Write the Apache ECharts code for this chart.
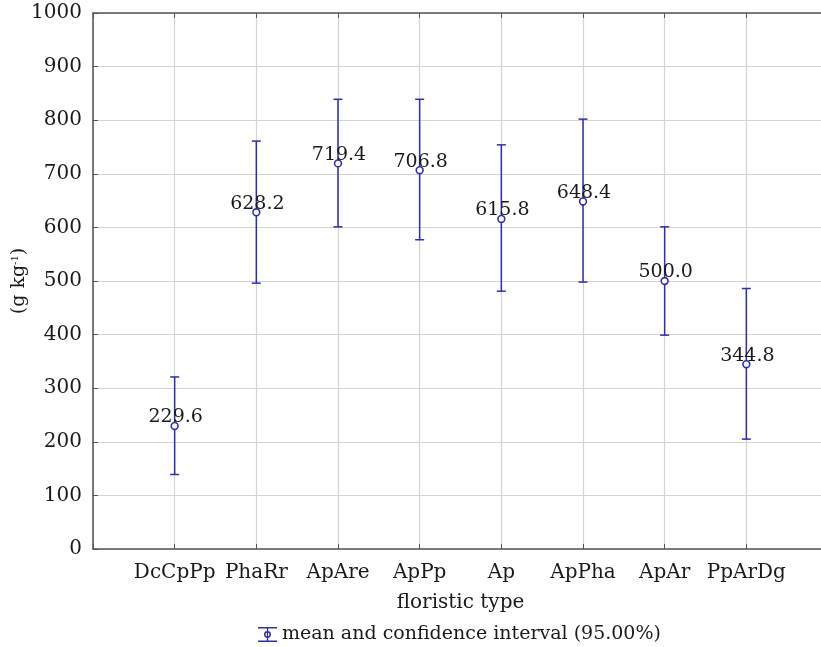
<!DOCTYPE html>
<html>
<head>
<meta charset="utf-8">
<script src="https://cdn.jsdelivr.net/npm/echarts@6/dist/echarts.min.js"></script>
<style>
  html, body { margin: 0; padding: 0; background: #fff; }
  #chart { width: 821px; height: 647px; }
</style>
</head>
<body>
<div id="chart"></div>
<script>
// floristic types, padded with empty slots at both ends of the axis
var categories = ['DcCpPp', 'PhaRr', 'ApAre', 'ApPp', 'Ap', 'ApPha', 'ApAr', 'PpArDg'];
var means = [229.6, 628.2, 719.4, 706.8, 615.8, 648.4, 500.0, 344.8];
var upper = [321, 761, 839, 839, 754, 802, 601, 486];
var lower = [139, 496, 601, 577, 481, 498, 399, 205];
var yTicks = [0, 100, 200, 300, 400, 500, 600, 700, 800, 900, 1000];

var axisCats = [''].concat(categories, ['']);
var font = 'DejaVu Serif';
var blue = '#2e2eb4';

var myChart = echarts.init(document.getElementById('chart'));

var seriesData = categories.map(function (c, i) {
  return [c, means[i], upper[i], lower[i]];
});

function renderBar(params, api) {
  var cat = api.value(0);
  var p = api.coord([cat, api.value(1)]);
  var hi = api.coord([cat, api.value(2)]);
  var lo = api.coord([cat, api.value(3)]);
  var cap = 4.5;
  var ls = { stroke: blue, lineWidth: 1.5, fill: null };
  return {
    type: 'group',
    children: [
      { type: 'line', shape: { x1: p[0], y1: hi[1], x2: p[0], y2: lo[1] }, style: ls },
      { type: 'line', shape: { x1: p[0] - cap, y1: hi[1], x2: p[0] + cap, y2: hi[1] }, style: ls },
      { type: 'line', shape: { x1: p[0] - cap, y1: lo[1], x2: p[0] + cap, y2: lo[1] }, style: ls },
      { type: 'circle', shape: { cx: p[0], cy: p[1], r: 3.4 }, style: { stroke: blue, lineWidth: 1.6, fill: '#fff' } },
      { type: 'text', style: {
          text: api.value(1).toFixed(1), x: p[0] + 1, y: p[1] + 1,
          align: 'center', verticalAlign: 'bottom',
          fontFamily: font, fontSize: 19, fill: '#1a1a1a'
        } }
    ]
  };
}

var option = {
  animation: false,
  backgroundColor: '#fff',
  grid: { left: 93, right: -7, top: 13, bottom: 98, outerBoundsMode: 'none', containLabel: false },
  legend: {
    left: 253,
    top: 620,
    itemWidth: 19,
    itemHeight: 15,
    itemGap: 8,
    icon: 'path://M0,0H18V1.4H0Z M8.4,1.4H9.6V12.6H8.4Z M0,12.6H18V14H0Z M12.3,7A3.3,3.3 0 1 1 5.7,7A3.3,3.3 0 1 1 12.3,7Z M10.9,7A1.9,1.9 0 1 0 7.1,7A1.9,1.9 0 1 0 10.9,7Z',
    textStyle: { fontFamily: font, fontSize: 19, color: '#1a1a1a' },
    data: ['mean and confidence interval (95.00%)']
  },
  xAxis: [{
    type: 'category',
    data: axisCats,
    boundaryGap: false,
    name: 'floristic type',
    nameLocation: 'middle',
    nameGap: 44,
    nameTextStyle: { fontFamily: font, fontSize: 20, color: '#1a1a1a' },
    axisLine: { lineStyle: { color: '#555', width: 1.5 } },
    axisTick: { inside: true, length: 5, lineStyle: { color: '#555' } },
    axisLabel: { fontFamily: font, fontSize: 20, color: '#1a1a1a', margin: 14, interval: 0 },
    splitLine: { show: true, lineStyle: { color: '#d4d4d4', width: 1.2 } }
  }, {
    type: 'category',
    position: 'top',
    data: axisCats,
    boundaryGap: false,
    axisLine: { lineStyle: { color: '#555', width: 1.5 } },
    axisTick: { inside: true, length: 5, lineStyle: { color: '#555' } },
    axisLabel: { show: false },
    splitLine: { show: false }
  }],
  yAxis: {
    type: 'value',
    min: yTicks[0],
    max: yTicks[yTicks.length - 1],
    interval: 100,
    name: '{a|(g kg}{s|-1}{a|)}',
    nameLocation: 'middle',
    nameGap: 64,
    nameMoveOverlap: false,
    nameTextStyle: {
      rich: {
        a: { fontFamily: font, fontSize: 19, color: '#1a1a1a' },
        s: { fontFamily: font, fontSize: 10, color: '#1a1a1a', verticalAlign: 'top', padding: [0, 0, 9, 0] }
      }
    },
    axisLine: { show: true, lineStyle: { color: '#555', width: 1.5 } },
    axisTick: { show: true, inside: true, length: 5, lineStyle: { color: '#555' } },
    axisLabel: {
      fontFamily: font, fontSize: 20, color: '#1a1a1a', margin: 11,
      formatter: function (v) { return String(v); }
    },
    splitLine: { show: true, lineStyle: { color: '#d4d4d4', width: 1.2 } }
  },
  series: [{
    name: 'mean and confidence interval (95.00%)',
    type: 'custom',
    itemStyle: { color: blue },
    renderItem: renderBar,
    encode: { x: 0, y: [1, 2, 3] },
    data: seriesData,
    z: 10
  }]
};
myChart.setOption(option);
</script>
</body>
</html>
